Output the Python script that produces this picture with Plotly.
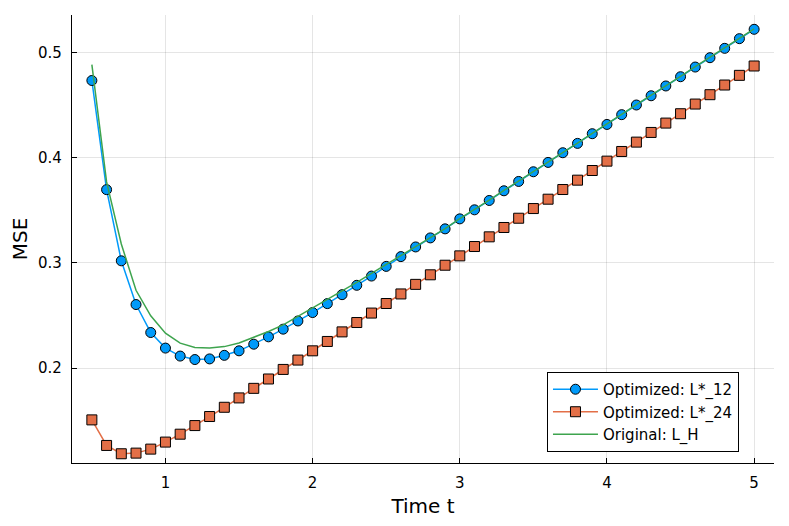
import plotly.graph_objects as go

# time grid 0.5 .. 5.0 in steps of 0.1
t = [0.5, 0.6, 0.7, 0.8, 0.9, 1.0, 1.1, 1.2, 1.3, 1.4,
     1.5, 1.6, 1.7, 1.8, 1.9, 2.0, 2.1, 2.2, 2.3, 2.4,
     2.5, 2.6, 2.7, 2.8, 2.9, 3.0, 3.1, 3.2, 3.3, 3.4,
     3.5, 3.6, 3.7, 3.8, 3.9, 4.0, 4.1, 4.2, 4.3, 4.4,
     4.5, 4.6, 4.7, 4.8, 4.9, 5.0]

mse_l12 = [0.4735, 0.3697, 0.3020, 0.2604, 0.2338, 0.2190, 0.2114, 0.2081, 0.2087, 0.2121,
           0.2164, 0.2227, 0.2297, 0.2370, 0.2448, 0.2528, 0.2613, 0.2698, 0.2787, 0.2875,
           0.2967, 0.3060, 0.3152, 0.3238, 0.3324, 0.3419, 0.3505, 0.3594, 0.3686, 0.3775,
           0.3867, 0.3956, 0.4048, 0.4137, 0.4229, 0.4317, 0.4410, 0.4502, 0.4590, 0.4683,
           0.4771, 0.4863, 0.4952, 0.5041, 0.5133, 0.5222]

mse_l24 = [0.1507, 0.1264, 0.1185, 0.1191, 0.1229, 0.1296, 0.1371, 0.1453, 0.1539, 0.1627,
           0.1716, 0.1807, 0.1896, 0.1987, 0.2076, 0.2164, 0.2253, 0.2344, 0.2433, 0.2523,
           0.2614, 0.2705, 0.2796, 0.2887, 0.2978, 0.3067, 0.3156, 0.3248, 0.3337, 0.3425,
           0.3517, 0.3606, 0.3698, 0.3787, 0.3879, 0.3968, 0.4060, 0.4149, 0.4241, 0.4330,
           0.4419, 0.4511, 0.4600, 0.4692, 0.4784, 0.4873]

mse_lh = [0.4886, 0.3770, 0.3180, 0.2740, 0.2497, 0.2332, 0.2237, 0.2196, 0.2190, 0.2204,
          0.2238, 0.2290, 0.2348, 0.2410, 0.2490, 0.2570, 0.2650, 0.2732, 0.2815, 0.2900,
          0.2983, 0.3068, 0.3155, 0.3241, 0.3327, 0.3422, 0.3508, 0.3597, 0.3689, 0.3778,
          0.3870, 0.3959, 0.4051, 0.4140, 0.4232, 0.4320, 0.4413, 0.4505, 0.4593, 0.4686,
          0.4774, 0.4866, 0.4955, 0.5044, 0.5136, 0.5225]

x_ticks = [1, 2, 3, 4, 5]
y_ticks = [0.2, 0.3, 0.4, 0.5]

fig = go.Figure()
fig.add_trace(go.Scatter(
    x=t, y=mse_l12, mode='lines+markers', name='Optimized: L*_12',
    line=dict(color='#009AFA', width=1.5),
    marker=dict(symbol='circle', size=10, color='#009AFA',
                line=dict(color='black', width=1)),
))
fig.add_trace(go.Scatter(
    x=t, y=mse_l24, mode='lines+markers', name='Optimized: L*_24',
    line=dict(color='#E36F47', width=1.5),
    marker=dict(symbol='square', size=10, color='#E36F47',
                line=dict(color='black', width=1)),
))
fig.add_trace(go.Scatter(
    x=t, y=mse_lh, mode='lines', name='Original: L_H',
    line=dict(color='#3EA44E', width=1.5),
))

axis_common = dict(
    showgrid=True, gridcolor='rgba(0,0,0,0.1)', gridwidth=1,
    zeroline=False, showline=True, linecolor='black', linewidth=1.2,
    ticks='inside', ticklen=5, tickcolor='black', automargin=False,
    tickfont=dict(family='DejaVu Sans', size=15, color='black'),
)

# page body adds an 8px offset, margins account for it
fig.update_layout(
    width=789, height=526,
    margin=dict(l=64, r=23, t=7, b=71),
    paper_bgcolor='white', plot_bgcolor='white',
    font=dict(family='DejaVu Sans', color='black'),
    xaxis=dict(axis_common, range=[0.365, 5.135], tickvals=x_ticks,
               ticklabelstandoff=6,
               title=dict(text='Time t', font=dict(size=20), standoff=7)),
    yaxis=dict(axis_common, range=[0.1097, 0.5358], tickvals=y_ticks,
               ticklabelstandoff=6,
               title=dict(text='MSE', font=dict(size=20), standoff=17)),
    legend=dict(
        x=0.6766, y=0.0246, xanchor='left', yanchor='bottom',
        bordercolor='black', borderwidth=1, bgcolor='white',
        font=dict(family='DejaVu Sans', size=15),
        tracegroupgap=0, itemwidth=45,
    ),
    showlegend=True,
)

fig.write_html("out.html")
